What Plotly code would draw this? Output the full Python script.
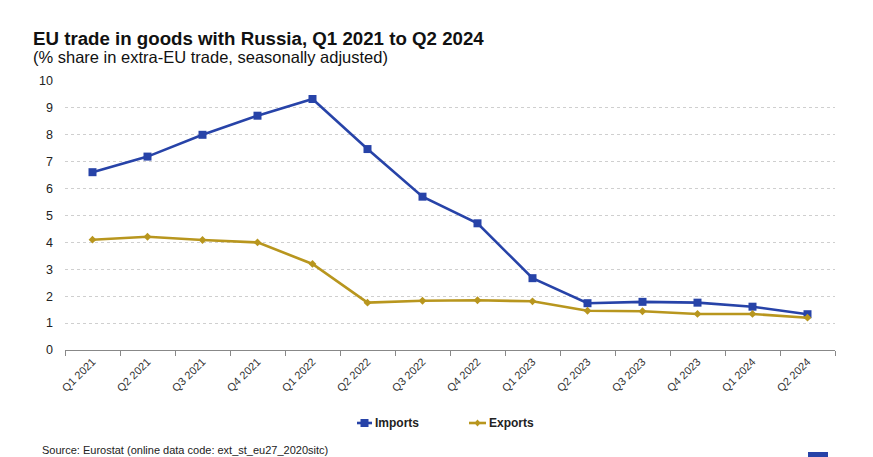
import plotly.graph_objects as go

quarters = ["Q1 2021", "Q2 2021", "Q3 2021", "Q4 2021", "Q1 2022", "Q2 2022", "Q3 2022",
            "Q4 2022", "Q1 2023", "Q2 2023", "Q3 2023", "Q4 2023", "Q1 2024", "Q2 2024"]
imports = [6.61, 7.19, 8.0, 8.71, 9.33, 7.47, 5.70, 4.71, 2.67, 1.74, 1.79, 1.76, 1.61, 1.33]
exports = [4.10, 4.21, 4.09, 4.00, 3.20, 1.76, 1.83, 1.85, 1.81, 1.46, 1.44, 1.34, 1.34, 1.20]
y_ticks = list(range(0, 11))
series_names = ["Imports", "Exports"]

IMP_COLOR = "#2743A8"
EXP_COLOR = "#B8961E"
FONT = "Liberation Sans, Arial, sans-serif"
NARROW = "Liberation Sans Narrow, Arial Narrow, Liberation Sans, sans-serif"

OFF = 8  # page body margin
W, H = 873 - OFF, 457 - OFF
# plot area in reference pixels: x 65..835, y 81..350
L, R, T, B = 65 - OFF, 873 - 835, 81 - OFF, 457 - 350
pw, ph = W - L - R, H - T - B

def px_x(x):
    return (x - OFF - L) / pw

def px_y(y):
    return (H - B - (y - OFF)) / ph

fig = go.Figure()
fig.add_trace(go.Scatter(
    x=quarters, y=imports, name=series_names[0], mode="lines+markers",
    line=dict(color=IMP_COLOR, width=2.6),
    marker=dict(symbol="square", size=8, color=IMP_COLOR),
))
fig.add_trace(go.Scatter(
    x=quarters, y=exports, name=series_names[1], mode="lines+markers",
    line=dict(color=EXP_COLOR, width=2.6),
    marker=dict(symbol="diamond", size=6, color=EXP_COLOR),
))

fig.update_layout(
    width=W, height=H,
    margin=dict(l=L, r=R, t=T, b=B, pad=0),
    paper_bgcolor="white", plot_bgcolor="white",
    font=dict(family=FONT, color="#222"),
    showlegend=False,
    xaxis=dict(
        type="category", range=[-0.5, 13.5],
        showgrid=False, showline=True, linecolor="#888", linewidth=1,
        ticks="outside", tickson="boundaries", ticklen=5, tickcolor="#888",
        tickangle=-45, tickfont=dict(size=11, color="#333", family=FONT),
    ),
    yaxis=dict(
        range=[0, 10], tickvals=y_ticks, ticktext=[str(v) for v in y_ticks],
        showgrid=True, gridcolor="#cfcfcf", griddash="dot", gridwidth=1,
        zeroline=False, showline=False, ticks="", ticklabelstandoff=11,
        tickfont=dict(size=12.5, color="#222", family=FONT),
    ),
)

fig.add_annotation(
    text="<b>EU trade in goods with Russia, Q1 2021 to Q2 2024</b>",
    xref="paper", yref="paper", x=px_x(31), y=px_y(38), xanchor="left", yanchor="middle",
    showarrow=False, font=dict(size=18.7, color="#111", family=FONT),
)
fig.add_annotation(
    text="(% share in extra-EU trade, seasonally adjusted)",
    xref="paper", yref="paper", x=px_x(31), y=px_y(57), xanchor="left", yanchor="middle",
    showarrow=False, font=dict(size=16.5, color="#111", family=FONT),
)
fig.add_annotation(
    text="Source: Eurostat (online data code: ext_st_eu27_2020sitc)",
    xref="paper", yref="paper", x=px_x(40), y=px_y(450), xanchor="left", yanchor="middle",
    showarrow=False, font=dict(size=11, color="#222", family=FONT),
)

# custom legend (symbols + real text)
legend_items = [(series_names[0], IMP_COLOR, "square", 357, 372),
                (series_names[1], EXP_COLOR, "diamond", 469, 486)]
ly = 423
for name, col, sym, x0, x1 in legend_items:
    fig.add_shape(type="line", xref="paper", yref="paper",
                  x0=px_x(x0), x1=px_x(x1), y0=px_y(ly), y1=px_y(ly),
                  line=dict(color=col, width=2.6))
    cx = (x0 + x1) / 2
    if sym == "square":
        fig.add_shape(type="rect", xref="paper", yref="paper",
                      x0=px_x(cx - 4), x1=px_x(cx + 4), y0=px_y(ly + 4), y1=px_y(ly - 4),
                      line=dict(width=0), fillcolor=col)
    else:
        fig.add_shape(type="path", xref="paper", yref="paper",
                      path=(f"M {px_x(cx)} {px_y(ly - 3.5)} L {px_x(cx + 3)} {px_y(ly)} "
                            f"L {px_x(cx)} {px_y(ly + 3.5)} L {px_x(cx - 3)} {px_y(ly)} Z"),
                      line=dict(width=0), fillcolor=col)
    fig.add_annotation(text=f"<b>{name}</b>", xref="paper", yref="paper",
                       x=px_x(x1 + 1), y=px_y(ly), xanchor="left", yanchor="middle",
                       showarrow=False, font=dict(size=12, color="#222", family=NARROW))

# logo hint
fig.add_shape(type="rect", xref="paper", yref="paper",
              x0=px_x(808), x1=px_x(828), y0=px_y(452), y1=px_y(457),
              line=dict(width=0), fillcolor="#2743A8")

fig.write_html("out.html")
